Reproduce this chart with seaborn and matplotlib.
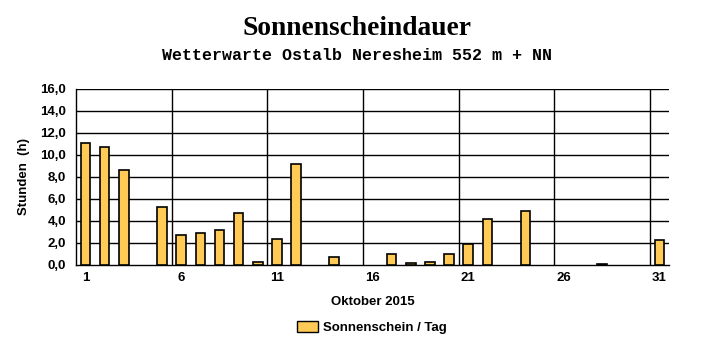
import matplotlib
matplotlib.use("Agg")
import matplotlib.pyplot as plt
from matplotlib.patches import Patch
import seaborn as sns
import pandas as pd

# Sonnenscheindauer Oktober 2015 (Stunden pro Tag)
tage = list(range(1, 32))
stunden = [11.1, 10.7, 8.6, 0.0, 5.3, 2.7, 2.9, 3.2, 4.7, 0.3,
           2.4, 9.2, 0.0, 0.7, 0.0, 0.0, 1.0, 0.2, 0.3, 1.0,
           1.9, 4.2, 0.0, 4.9, 0.0, 0.0, 0.0, 0.1, 0.0, 0.0,
           2.3]
y_ticks = [0, 2, 4, 6, 8, 10, 12, 14, 16]
x_labels = ['1', '6', '11', '16', '21', '26', '31']

df = pd.DataFrame({'Tag': tage, 'Stunden': stunden})

sns.set_style('white')
plt.rcParams['font.family'] = ['Liberation Sans Narrow', 'Liberation Sans', 'DejaVu Sans']
plt.rcParams['text.color'] = 'black'
plt.rcParams['axes.labelcolor'] = 'black'
plt.rcParams['xtick.color'] = 'black'
plt.rcParams['ytick.color'] = 'black'

fig = plt.figure(figsize=(7.15, 3.52), dpi=100)
ax = fig.add_axes([0.1063, 0.2472, 0.8294, 0.5])

farbe = '#FFCA55'
sns.barplot(data=df, x='Tag', y='Stunden', color=farbe, width=0.5,
            edgecolor='black', linewidth=1.2, saturation=1, ax=ax, zorder=3)

# Tage ohne Sonnenschein: keine Säule zeichnen
for p in ax.patches:
    if p.get_height() == 0:
        p.set_visible(False)

ax.set_ylim(0, 16)
ax.set_xlim(-0.5, 30.5)
ax.set_yticks(y_ticks)
ax.set_yticklabels([f'{v:.1f}'.replace('.', ',') for v in y_ticks],
                   fontsize=9.5, fontweight='bold')
ax.set_xticks([0, 5, 10, 15, 20, 25, 30])
ax.set_xticklabels(x_labels, fontsize=9.5, fontweight='bold')
ax.set_xticks([k + 0.5 for k in range(-1, 31)], minor=True)
ax.tick_params(axis='x', which='major', length=0, pad=5)
ax.tick_params(axis='x', which='minor', length=4, width=1, direction='out', color='black')
ax.tick_params(axis='y', length=5, width=1, direction='out', color='black', pad=2)

# Gitterlinien
for v in y_ticks[1:]:
    ax.axhline(v, color='black', linewidth=1, zorder=1)
for k in [4.5, 9.5, 14.5, 19.5, 24.5, 29.5]:
    ax.axvline(k, color='black', linewidth=1, zorder=1)

for s in ['top', 'right']:
    ax.spines[s].set_visible(False)
for s in ['left', 'bottom']:
    ax.spines[s].set_color('black')
    ax.spines[s].set_linewidth(1)

ax.set_xlabel('Oktober 2015', fontsize=9.5, fontweight='bold', labelpad=9)
ax.set_ylabel('Stunden  (h)', fontsize=9.5, fontweight='bold')
ax.yaxis.set_label_coords(-0.077, 0.5)

fig.text(0.5, 0.92, 'Sonnenscheindauer', ha='center', va='center',
         fontsize=19.8, fontweight='bold', family='Liberation Serif')
fig.text(0.5, 0.843, 'Wetterwarte Ostalb Neresheim 552 m + NN', ha='center', va='center',
         fontsize=12, fontweight='bold', family='Liberation Mono')

handles = [Patch(facecolor=farbe, edgecolor='black', linewidth=1, label='Sonnenschein / Tag')]
fig.legend(handles=handles, loc='center', bbox_to_anchor=(0.52, 0.07), frameon=False,
           prop={'size': 9.5, 'weight': 'bold'}, handlelength=1.6, handleheight=0.9,
           handletextpad=0.4)

fig.savefig('out.png', dpi=100)
